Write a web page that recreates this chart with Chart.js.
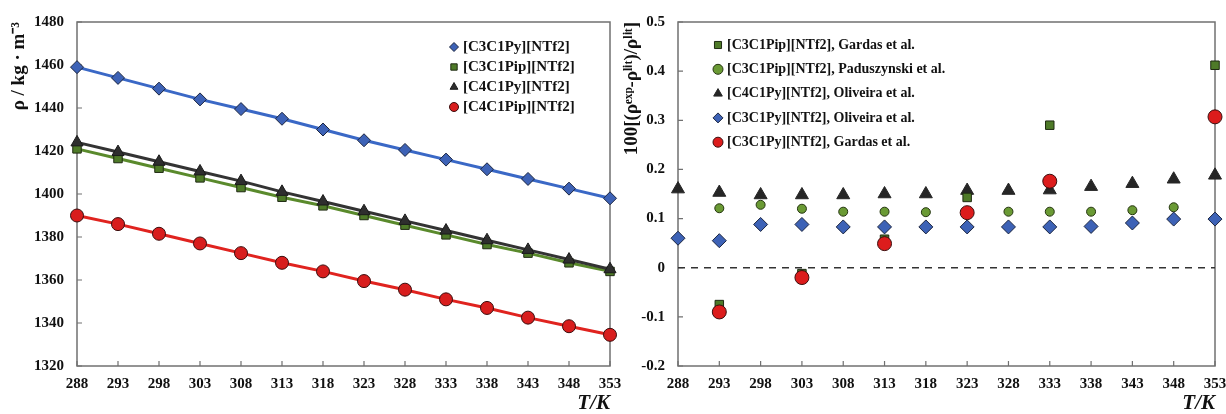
<!DOCTYPE html>
<html>
<head>
<meta charset="utf-8">
<script src="https://cdn.jsdelivr.net/npm/chart.js@4.4.1/dist/chart.umd.min.js"></script>
<style>
  html, body { margin: 0; padding: 0; background: #fff; }
  #wrap { position: relative; width: 1226px; height: 414px; overflow: hidden; }
  #left { position: absolute; left: 0; top: 0; }
  #right { position: absolute; left: 612px; top: 0; }
</style>
</head>
<body>
<div id="wrap">
  <canvas id="left" width="626" height="414"></canvas>
  <canvas id="right" width="614" height="414"></canvas>
</div>
<script>
// temperatures, K
const temps = [288, 293, 298, 303, 308, 313, 318, 323, 328, 333, 338, 343, 348, 353];

// left panel: density, kg/m3
const rhoC3C1Py  = [1459, 1454, 1449, 1444, 1439.5, 1435, 1430, 1425, 1420.5, 1416, 1411.5, 1407, 1402.5, 1398];
const rhoC3C1Pip = [1421, 1416.5, 1412, 1407.5, 1403, 1398.5, 1394.5, 1390, 1385.5, 1381, 1376.5, 1372.5, 1368, 1364];
const rhoC4C1Py  = [1424, 1419.5, 1415, 1410.5, 1406, 1401, 1396.5, 1392, 1387.5, 1383, 1378.5, 1374, 1369.5, 1365];
const rhoC4C1Pip = [1390, 1386, 1381.5, 1377, 1372.5, 1368, 1364, 1359.5, 1355.5, 1351, 1347, 1342.5, 1338.5, 1334.5];

// right panel: relative deviation from literature
const gardasPipT = [293, 303, 313, 323, 333, 353];
const gardasPip  = [-0.075, -0.012, 0.058, 0.143, 0.29, 0.412];
const paduT      = [293, 298, 303, 308, 313, 318, 323, 328, 333, 338, 343, 348];
const paduPip    = [0.121, 0.128, 0.12, 0.114, 0.114, 0.113, 0.113, 0.114, 0.114, 0.114, 0.117, 0.123];
const olivC4Py   = [0.16, 0.153, 0.148, 0.148, 0.148, 0.15, 0.15, 0.157, 0.157, 0.158, 0.165, 0.171, 0.18, 0.188];
const olivC3Py   = [0.06, 0.055, 0.088, 0.088, 0.083, 0.083, 0.083, 0.083, 0.083, 0.083, 0.084, 0.091, 0.099, 0.099];
const gardasPyT  = [293, 303, 313, 323, 333, 353];
const gardasPy   = [-0.09, -0.02, 0.049, 0.112, 0.176, 0.307];
const zeroLine   = [0, 0];

const FONT = "'Liberation Serif', 'Times New Roman', serif";
const pts = (xs, ys) => xs.map((x, i) => ({ x: x, y: ys[i] }));

const framePlugin = {
  id: 'frame',
  beforeDatasetsDraw(chart) {
    const { ctx, chartArea: a, scales } = chart;
    ctx.save();
    ctx.strokeStyle = '#707070';
    ctx.lineWidth = 1.5;
    ctx.strokeRect(a.left, a.top, a.right - a.left, a.bottom - a.top);
    ctx.lineWidth = 1.2;
    ctx.beginPath();
    scales.x.ticks.forEach(t => {
      const px = scales.x.getPixelForValue(t.value);
      ctx.moveTo(px, a.bottom); ctx.lineTo(px, a.bottom - 5);
    });
    scales.y.ticks.forEach(t => {
      const py = scales.y.getPixelForValue(t.value);
      ctx.moveTo(a.left, py); ctx.lineTo(a.left + 5, py);
    });
    ctx.stroke();
    ctx.restore();
  }
};

const keyPlugin = {
  id: 'key',
  afterDatasetsDraw(chart, args, opts) {
    const { ctx, chartArea: a } = chart;
    ctx.save();
    ctx.font = 'bold ' + opts.size + 'px ' + FONT;
    ctx.textBaseline = 'middle';
    opts.order.forEach((di, i) => {
      const ds = chart.data.datasets[di];
      const y = a.top + opts.top + i * opts.gap;
      ctx.fillStyle = ds.pointBackgroundColor;
      ctx.strokeStyle = ds.pointBorderColor;
      ctx.lineWidth = 1;
      Chart.helpers.drawPoint(ctx, { pointStyle: ds.pointStyle, radius: opts.r, borderWidth: 1, rotation: 0 }, a.left + opts.mx, y);
      ctx.fillStyle = '#111';
      ctx.fillText(ds.label, a.left + opts.tx, y);
    });
    ctx.restore();
  }
};

function xAxis() {
  return {
    type: 'linear', min: 288, max: 353,
    grid: { display: false, drawTicks: false }, border: { display: false },
    ticks: { stepSize: 5, padding: 9, color: '#111', font: { family: FONT, size: 15, weight: 'bold' },
             callback: v => String(v) },
    title: { display: true, text: 'T/K', align: 'end', color: '#111', padding: 0,
             font: { family: FONT, size: 21, weight: 'bold', style: 'italic', lineHeight: 1 } },
    afterFit: s => { s.height = 48; s.paddingRight = 0; s.paddingLeft = 0; }
  };
}

const baseOpts = {
  responsive: false, animation: false,
  plugins: { legend: { display: false }, tooltip: { enabled: false } }
};

new Chart(document.getElementById('left'), {
  type: 'line',
  data: {
    datasets: [
      { label: '[C4C1Py][NTf2]', data: pts(temps, rhoC4C1Py), borderColor: '#333333', borderWidth: 3,
        pointStyle: 'triangle', pointRadius: 7, pointBackgroundColor: '#2e2e2e', pointBorderColor: '#1a1a1a', pointBorderWidth: 1 },
      { label: '[C3C1Pip][NTf2]', data: pts(temps, rhoC3C1Pip), borderColor: '#5a8a2c', borderWidth: 3,
        pointStyle: 'rect', pointRadius: 6, pointBackgroundColor: '#4e7a28', pointBorderColor: '#1f2a12', pointBorderWidth: 1 },
      { label: '[C3C1Py][NTf2]', data: pts(temps, rhoC3C1Py), borderColor: '#3a68c6', borderWidth: 3,
        pointStyle: 'rectRot', pointRadius: 6.5, pointBackgroundColor: '#3d62b6', pointBorderColor: '#1b2540', pointBorderWidth: 1 },
      { label: '[C4C1Pip][NTf2]', data: pts(temps, rhoC4C1Pip), borderColor: '#e0231f', borderWidth: 3,
        pointStyle: 'circle', pointRadius: 6.5, pointBackgroundColor: '#d81d1d', pointBorderColor: '#3a0d0d', pointBorderWidth: 1 }
    ].map(d => Object.assign(d, { tension: 0, clip: false }))
  },
  options: Object.assign({}, baseOpts, {
    layout: { padding: { top: 20, right: 16, left: 0, bottom: 0 } },
    plugins: Object.assign({}, baseOpts.plugins, {
      key: { order: [2, 1, 0, 3], size: 15, top: 25, gap: 20, mx: 377, tx: 386, r: 4.5 }
    }),
    scales: {
      x: xAxis(),
      y: {
        min: 1320, max: 1480,
        grid: { display: false, drawTicks: false }, border: { display: false },
        ticks: { stepSize: 20, padding: 13, color: '#111', font: { family: FONT, size: 15, weight: 'bold' },
                 callback: v => String(v) },
        title: { display: true, text: 'ρ / kg · m⁻³', align: 'end', color: '#111', padding: { top: 8, bottom: 0 },
                 font: { family: FONT, size: 19, weight: 'bold' } },
        afterFit: s => { s.width = 77; }
      }
    }
  }),
  plugins: [framePlugin, keyPlugin]
});

new Chart(document.getElementById('right'), {
  type: 'scatter',
  data: {
    datasets: [
      { label: '[C3C1Py][NTf2], Gardas et al.', data: pts(gardasPyT, gardasPy),
        pointStyle: 'circle', pointRadius: 7, pointBackgroundColor: '#dc1c1c', pointBorderColor: '#3a0d0d', pointBorderWidth: 1 },
      { label: '[C3C1Pip][NTf2], Gardas et al.', data: pts(gardasPipT, gardasPip),
        pointStyle: 'rect', pointRadius: 6, pointBackgroundColor: '#4e7a28', pointBorderColor: '#1f2a12', pointBorderWidth: 1 },
      { label: '[C4C1Py][NTf2], Oliveira et al.', data: pts(temps, olivC4Py),
        pointStyle: 'triangle', pointRadius: 7.5, pointBackgroundColor: '#262626', pointBorderColor: '#262626', pointBorderWidth: 1 },
      { label: '[C3C1Py][NTf2], Oliveira et al.', data: pts(temps, olivC3Py),
        pointStyle: 'rectRot', pointRadius: 7, pointBackgroundColor: '#3d62b6', pointBorderColor: '#1b2540', pointBorderWidth: 1 },
      { label: '[C3C1Pip][NTf2], Paduszynski et al.', data: pts(paduT, paduPip),
        pointStyle: 'circle', pointRadius: 4.5, pointBackgroundColor: '#6a9a34', pointBorderColor: '#24340f', pointBorderWidth: 1 },
      { label: 'zero', type: 'line', data: pts([temps[0], temps[temps.length - 1]], zeroLine),
        borderColor: '#333', borderWidth: 1.5, borderDash: [7, 6], pointRadius: 0 }
    ].map(d => Object.assign(d, { clip: false }))
  },
  options: Object.assign({}, baseOpts, {
    layout: { padding: { top: 20, right: 11, left: 0, bottom: 0 } },
    plugins: Object.assign({}, baseOpts.plugins, {
      key: { order: [1, 4, 2, 3, 0], size: 14, top: 23, gap: 24.3, mx: 40, tx: 49, r: 5 }
    }),
    scales: {
      x: xAxis(),
      y: {
        min: -0.2, max: 0.5,
        grid: { display: false, drawTicks: false }, border: { display: false },
        ticks: { stepSize: 0.1, padding: 13, color: '#111', font: { family: FONT, size: 15, weight: 'bold' },
                 callback: v => Math.abs(v) < 1e-9 ? '0' : v.toFixed(1) },
        title: { display: true, text: '100[(ρᵉˣᵖ-ρˡⁱᵗ)/ρˡⁱᵗ]', align: 'end', color: '#111', padding: { top: 9, bottom: 0 },
                 font: { family: FONT, size: 19, weight: 'bold' } },
        afterFit: s => { s.width = 66; }
      }
    }
  }),
  plugins: [framePlugin, keyPlugin]
});
</script>
</body>
</html>
